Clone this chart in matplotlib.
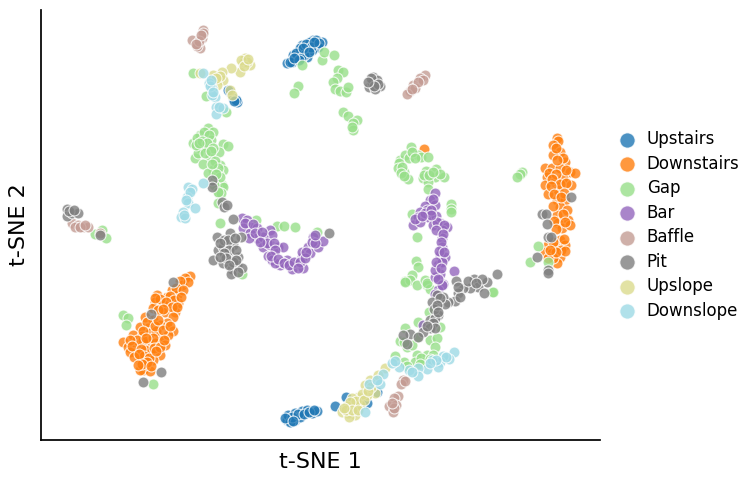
import matplotlib
matplotlib.use("Agg")
import matplotlib.pyplot as plt

labels = ["Upstairs", "Downstairs", "Gap", "Bar", "Baffle", "Pit", "Upslope", "Downslope"]
colors = ["#1f77b4", "#ff7f0e", "#98df8a", "#9467bd", "#c49c94", "#7f7f7f", "#dbdb8d", "#9edae5"]

upstairs = [(287,63),(295,60),(292,62),(298,52),(305,50),(308,47),(315,45),(313,40),(322,42),(307,57),(297,57),(302,45),(318,47),(312,50),(293,55),(300,48),(310,42),(304,55),(316,40),(290,62),
            (296,53),(301,58),(306,44),(311,47),(303,48),(299,60),(319,43),(309,52),(294,58),(314,42),
            (230,92),(237,102),(233,98),(228,90),(236,100),(234,101),
            (287,420),(288,415),(295,413),(295,420),(302,411),(307,410),(312,413),(317,411),(290,422),(300,417),
            (292,417),(298,414),(304,414),(309,412),(285,418),(293,421),(314,410),
            (335,406),(346,397),(367,403),(377,392)]
downstairs = [(190,276),(185,278),(182,285),(172,290),(177,295),(167,297),(157,295),(155,302),(162,305),(170,303),(178,303),(175,312),(153,308),(165,312),(188,282),
              (180,281),(176,288),(183,290),(170,296),(160,299),(174,300),(181,297),(166,302),(158,310),(172,307),(177,307),(163,309),(173,317),(155,298),
              (145,317),(153,320),(167,323),(160,325),(148,328),(140,327),(173,331),(133,335),(142,336),(150,333),(160,338),(168,335),(123,342),(128,347),(137,345),(148,343),(165,345),(136,352),(150,353),(160,355),(140,360),(153,360),(143,370),(150,371),(145,365),(140,370),(155,343),(143,340),(130,352),(145,350),(156,331),
              (147,322),(155,326),(163,330),(143,331),(137,340),(153,338),(146,338),(130,340),(132,346),(141,349),(154,348),(160,347),(144,356),(149,358),(156,351),(134,357),(139,354),(147,362),(142,364),(151,366),(138,365),(164,340),(158,320),(170,326),
              (557,138),(558,141),(553,145),(560,152),(553,155),(565,162),(545,168),(552,168),(560,168),(570,172),(575,173),(547,177),(555,182),(563,178),(571,185),(545,185),(558,190),(548,194),(557,200),(565,200),(560,207),(567,210),(557,215),(568,220),(558,223),(562,228),(570,225),(560,240),(565,245),(548,245),(555,247),(545,252),(552,253),(560,257),(557,263),(553,258),(548,258),
              (556,148),(563,158),(557,160),(549,173),(566,170),(556,174),(552,179),(560,184),(566,183),(551,186),(564,193),(554,194),(561,197),(553,206),(563,214),(554,221),(565,222),(556,229),(553,242),(561,250),(565,251),(556,252),(550,250),(564,239),
              (424,149)]
gap = [(302,65),(322,60),(324,52),(334,55),(298,86),(294,93),(338,70),(343,72),(337,78),(333,82),(335,89),(340,91),(346,92),(348,87),(343,112),(348,116),(357,120),(353,123),(353,130),(352,127),(193,73),(206,96),(226,112),
       (208,128),(200,135),(213,132),(193,143),(211,140),(200,148),(197,138),(205,147),(223,144),(228,146),(219,152),(210,157),(195,158),(203,164),(198,153),(220,165),(213,170),(223,170),(218,173),(208,173),(222,185),(217,188),(219,193),(223,187),(215,180),
       (204,132),(209,135),(196,145),(202,141),(207,143),(213,148),(199,143),(205,153),(211,151),(215,161),(218,168),(212,164),(220,177),(214,185),(221,193),(216,174),
       (220,223),(256,220),(277,226),(284,226),(295,227),(317,232),(242,274),(123,315),(128,318),(126,325),(95,234),(102,230),(106,238),(153,384),(218,192),(218,203),
       (411,147),(400,160),(405,155),(409,158),(418,155),(421,157),(428,157),(399,163),(398,168),(404,172),(408,179),(426,171),(423,178),(436,169),(435,177),(444,177),(428,182),(428,189),(451,204),(451,209),(451,212),(412,214),(417,237),(522,172),(520,174),(517,177),(538,246),(530,262),(548,262),(416,261),(418,267),(412,275),(405,281),(410,280),(417,285),(425,280),(427,285),(492,292),(430,289),(429,312),
       (402,167),(401,173),(404,176),(412,152),(415,158),(424,175),(429,175),(440,174),(433,172),
       (405,282),(427,283),(493,292),(418,322),(440,327),(405,328),(400,341),(430,340),(437,338),(435,347),(417,337),(407,347),(395,356),(404,362),(417,355),(427,355),(415,362),(425,362),(433,355),(407,366),(432,325),
       (421,358),(412,345),(420,364),(430,359),(404,342)]
bar = [(242,218),(247,220),(250,227),(243,228),(257,228),(250,233),(257,238),(249,238),(270,230),(272,235),(263,237),(263,247),(270,245),(278,247),(283,247),(268,256),(272,260),(280,265),(287,260),(292,269),(297,263),(303,268),(302,257),(302,252),(308,247),(310,253),(313,237),(318,247),(323,241),(312,242),(282,262),(275,263),
       (245,223),(253,224),(255,233),(262,232),(267,243),(274,243),(275,250),(271,256),(278,259),(284,263),(289,265),(294,262),(300,262),(305,258),(306,252),(315,243),(315,235),(298,268),(260,242),
       (435,193),(430,200),(425,206),(435,205),(420,212),(418,217),(428,217),(413,225),(436,216),(420,222),(440,223),(433,225),(447,227),(442,230),(442,238),(442,247),(440,255),(445,257),(438,265),(442,262),(440,274),(435,277),(443,284),(454,271),(438,290),(435,270),(442,285),(435,294),(423,325),
       (433,199),(427,210),(415,219),(425,213),(431,210),(437,222),(444,225),(436,230),(443,234),(441,242),(439,251),(444,252),(436,262),(441,268),(438,279),(431,215),(422,216)]
baffle = [(203,30),(202,38),(192,40),(198,43),(200,48),(197,46),(203,33),(199,41),(201,35),(196,44),
          (425,75),(420,78),(413,85),(423,80),(410,91),(415,88),(407,94),(418,82),(412,89),
          (72,223),(78,225),(83,227),(88,227),(75,227),(100,233),(80,227),(85,225),
          (403,380),(401,384),(398,396),(394,398),(389,406),(396,405),(393,412),(394,408),(392,403),(405,381)]
pit = [(373,77),(369,87),(380,86),(372,83),(377,80),(375,89),(371,78),(378,84),(374,86),(368,82),
       (212,180),(212,187),(222,202),(224,207),(227,205),
       (67,209),(67,216),(72,213),(78,213),(100,235),(69,211),(74,210),
       (233,219),(241,237),(217,237),(230,233),(218,250),(223,247),(233,245),(213,260),(230,258),(238,257),(223,263),(237,265),(232,269),(242,268),(231,274),(329,233),(173,282),(151,314),(161,372),(143,382),
       (224,240),(228,240),(235,238),(220,243),(229,250),(224,253),(236,250),(233,262),(226,258),(238,272),(220,257),(236,260),(229,265),
       (542,214),(546,214),(571,197),(547,224),(548,237),(551,237),(537,257),(548,270),(548,273),
       (497,274),(487,282),(474,279),(478,287),(484,293),(470,288),(463,288),(458,293),(455,301),(448,302),(456,281),(443,297),(437,295),(432,302),(438,305),(438,315),(430,320),(435,318),
       (482,279),(468,281),(476,283),(460,297),(445,304),(440,298),(434,309),(458,287),
       (433,323),(430,328),(423,332),(410,334),(403,335),(407,344),(418,337),(435,328),(437,305),(427,326),(438,312)]
upslope = [(245,58),(250,65),(243,63),(240,72),(231,68),(222,72),(213,75),(223,80),(217,85),(230,90),(232,95),(200,73),(247,62),(241,60),(244,66),(248,59),(220,76),(216,78),
           (385,368),(370,380),(365,385),(375,393),(367,395),(358,397),(352,398),(347,406),(355,407),(342,412),(355,415),(348,413),(349,417),(360,405),
           (371,387),(362,394),(356,401),(350,402),(346,410),(352,410),(358,410),(344,408),(364,400),(378,375),(368,391)]
downslope = [(203,73),(209,83),(212,88),(215,97),(216,107),(216,114),(223,108),(212,95),(203,183),(210,86),(213,92),(219,107),(211,80),
             (188,187),(192,189),(187,197),(188,203),(195,208),(183,212),(181,217),(185,218),(190,192),(186,200),(184,215),
             (454,352),(449,359),(443,356),(440,362),(432,360),(438,367),(427,369),(418,368),(418,376),(409,370),(399,367),(392,363),(383,374),(380,384),(369,384),(377,380),(365,412),(446,357),(436,360),(430,363),(395,361),(412,372)]
groups = [upstairs, downstairs, gap, bar, baffle, pit, upslope, downslope]

fig = plt.figure(figsize=(7.51, 4.82), dpi=100)
ax = fig.add_axes([41/751, 1-440/482, (600-41)/751, (440-10)/482])
for pts, c, lab in zip(groups, colors, labels):
    ax.scatter([p[0] for p in pts], [p[1] for p in pts], s=62, c=c, alpha=0.8,
               edgecolors="white", linewidths=0.8, label=lab)
ax.set_xlim(41, 600)
ax.set_ylim(440, 10)
ax.set_xticks([]); ax.set_yticks([])
ax.spines["top"].set_visible(False); ax.spines["right"].set_visible(False)
ax.spines["left"].set_linewidth(1.25); ax.spines["bottom"].set_linewidth(1.25)
ax.set_xlabel("t-SNE 1", fontsize=16, labelpad=8.5)
ax.set_ylabel("t-SNE 2", fontsize=16, labelpad=8.5)
ax.legend(loc="center left", bbox_to_anchor=(1.0, 0.5), frameon=False, fontsize=12,
          markerscale=1.4, handletextpad=0.2, borderaxespad=0.2, labelspacing=0.39)
fig.savefig("out.png", dpi=100)
